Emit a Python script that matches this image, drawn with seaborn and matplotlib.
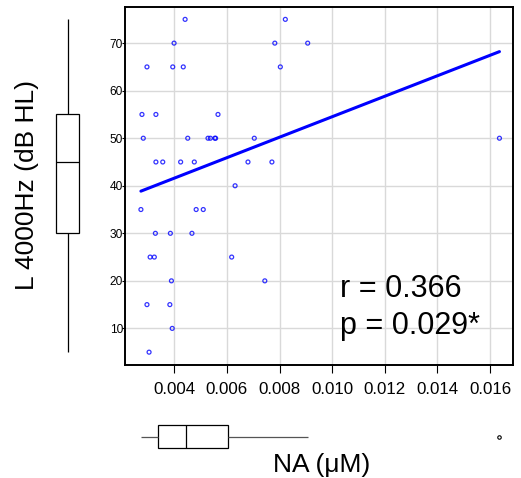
import matplotlib
matplotlib.use("Agg")
import matplotlib.pyplot as plt
import seaborn as sns
import pandas as pd
import numpy as np

# Data
na_um = [0.00441, 0.00822,
         0.00399, 0.00782, 0.00907,
         0.00296, 0.00394, 0.00434, 0.00803,
         0.00277, 0.00330, 0.00566,
         0.00282, 0.00451, 0.00528, 0.00537, 0.00554, 0.00557, 0.00704, 0.01636,
         0.00330, 0.00356, 0.00424, 0.00476, 0.00680, 0.00771,
         0.00631,
         0.00273, 0.00483, 0.00510,
         0.00328, 0.00385, 0.00467,
         0.00308, 0.00324, 0.00618,
         0.00389, 0.00744,
         0.00296, 0.00383,
         0.00392,
         0.00304]
l4000 = [75, 75,
         70, 70, 70,
         65, 65, 65, 65,
         55, 55, 55,
         50, 50, 50, 50, 50, 50, 50, 50,
         45, 45, 45, 45, 45, 45,
         40,
         35, 35, 35,
         30, 30, 30,
         25, 25, 25,
         20, 20,
         15, 15,
         10,
         5]
x_ticks = [0.004, 0.006, 0.008, 0.010, 0.012, 0.014, 0.016]
x_ticklabels = ["0.004", "0.006", "0.008", "0.010", "0.012", "0.014", "0.016"]
y_ticks = [10, 20, 30, 40, 50, 60, 70]
stats_text = ["r = 0.366", "p = 0.029*"]
x_label = "NA (μM)"
y_label = "L 4000Hz (dB HL)"

df = pd.DataFrame({"NA": na_um, "L4000": l4000})

sns.set_theme(style="white")
plt.rcParams["font.family"] = ["Liberation Sans", "DejaVu Sans"]
plt.rcParams["text.color"] = "black"
plt.rcParams["xtick.labelcolor"] = "black"
plt.rcParams["ytick.labelcolor"] = "black"

W, H = 521, 478
fig = plt.figure(figsize=(W / 100, H / 100), dpi=100)

def fr(x0, y0, x1, y1):
    return [x0 / W, 1 - y1 / H, (x1 - x0) / W, (y1 - y0) / H]

xlim = (0.002125, 0.016875)
ylim = (2.3, 77.6)

ax = fig.add_axes(fr(125, 7, 513, 365))
sns.regplot(data=df, x="NA", y="L4000", ax=ax, ci=None,
            scatter_kws=dict(s=8, facecolors="none", edgecolors="blue", linewidths=0.9),
            line_kws=dict(color="blue", lw=2.2), color="blue")
ax.set_xlim(*xlim)
ax.set_ylim(*ylim)
ax.set_xticks(x_ticks)
ax.set_xticklabels(x_ticklabels, fontsize=12.2)
ax.set_yticks(y_ticks)
ax.set_yticklabels([str(v) for v in y_ticks], fontsize=8.6)
ax.grid(True, color="#d9d9d9", lw=1)
ax.set_axisbelow(True)
for s in ax.spines.values():
    s.set_color("black")
    s.set_linewidth(1.4)
ax.tick_params(axis="x", bottom=True, length=6, width=0.8, color="black", pad=6)
ax.tick_params(axis="y", left=True, length=2.5, width=0.8, color="black", pad=-1)
ax.set_xlabel("")
ax.set_ylabel("")
ax.text(0.5533, 0.189, stats_text[0], transform=ax.transAxes, fontsize=22,
        ha="left", va="baseline", color="black")
ax.text(0.5533, 0.0866, stats_text[1], transform=ax.transAxes, fontsize=22,
        ha="left", va="baseline", color="black")

# y marginal boxplot
axy = fig.add_axes(fr(45.2, 7, 90.2, 365))
sns.boxplot(y=df["L4000"], ax=axy, width=0.5, color="white", linecolor="black",
            linewidth=0.9, fliersize=2, showcaps=False)
axy.set_ylim(*ylim)
axy.set_xlim(-0.5, 0.5)
axy.axis("off")

# x marginal boxplot
axx = fig.add_axes(fr(125, 414.2, 513, 459.2))
sns.boxplot(x=df["NA"], ax=axx, width=0.5, color="white", linecolor="black",
            linewidth=0.9, showcaps=False, whiskerprops=dict(color="#555555"),
            flierprops=dict(marker="o", markersize=2.5, markerfacecolor="none",
                            markeredgecolor="black", markeredgewidth=0.8))
axx.set_xlim(*xlim)
axx.set_ylim(0.5, -0.5)
axx.axis("off")

fig.text(321.5 / W, 1 - 465 / H, x_label, fontsize=19, ha="center", va="center")
fig.text(27 / W, 1 - 185 / H, y_label, fontsize=19, ha="center", va="center",
         rotation=90)

fig.savefig("out.png", dpi=100)
